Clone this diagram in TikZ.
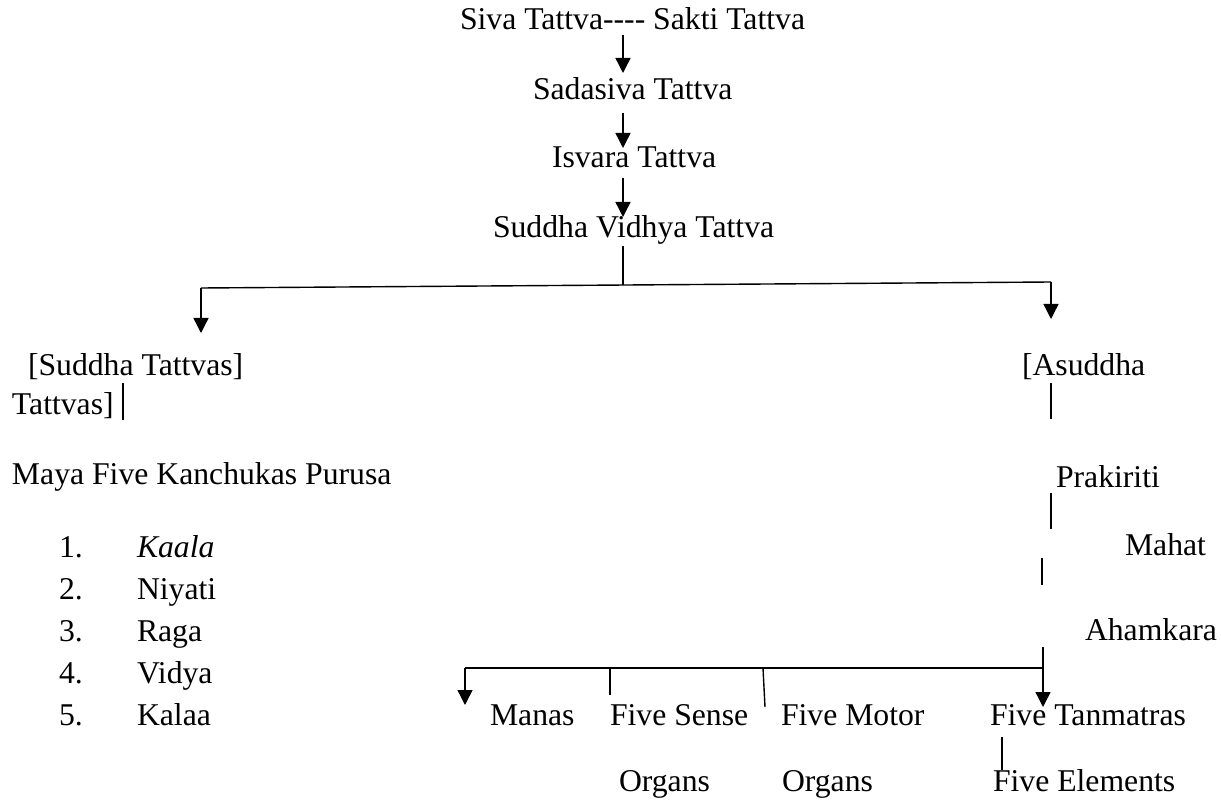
\documentclass[tikz,border=0pt]{standalone}
\usepackage{fontspec}
\setmainfont{Liberation Serif}
\usetikzlibrary{arrows.meta}
\begin{document}
\begin{tikzpicture}[x=1pt,y=-1pt,
  lbl/.style={anchor=base west,inner sep=0pt,outer sep=0pt,font=\fontsize{31.7}{38}\selectfont},
  conn/.style={line width=1.4pt,black},
  arr/.style={conn,-{Triangle[length=15pt,width=15pt]}}]
\useasboundingbox (0,0) rectangle (1221,802);
\fill[white] (0,0) rectangle (1221,802);
% top chain
\node[lbl] (siva) at (460,30) {Siva Tattva-{}-{}-{}- Sakti Tattva};
\node[lbl] (sada) at (533,100) {Sadasiva Tattva};
\node[lbl] (isv) at (552,168) {Isvara Tattva};
\node[lbl] (sv) at (493,238) {Suddha Vidhya Tattva};
% branches
\node[lbl] (sud) at (28,375) {[Suddha Tattvas]};
\node[lbl] (sud2) at (12,414) {Tattvas]};
\node[lbl] (asud) at (1022,375) {[Asuddha};
\node[lbl] (maya) at (12,484) {Maya Five Kanchukas Purusa};
\node[lbl] (prak) at (1056,487) {Prakiriti};
\node[lbl] (mahat) at (1125,555) {Mahat};
\node[lbl] (aham) at (1085,640) {Ahamkara};
% list
\node[lbl] (n1) at (59,557) {1.};
\node[lbl] (i1) at (137,557) {\textit{Kaala}};
\node[lbl] (n2) at (59,599) {2.};
\node[lbl] (i2) at (137,599) {Niyati};
\node[lbl] (n3) at (59,641) {3.};
\node[lbl] (i3) at (137,641) {Raga};
\node[lbl] (n4) at (59,683) {4.};
\node[lbl] (i4) at (137,683) {Vidya};
\node[lbl] (n5) at (59,725) {5.};
\node[lbl] (i5) at (137,725) {Kalaa};
% bottom
\node[lbl] (manas) at (490,725) {Manas};
\node[lbl] (sense) at (610,725) {Five Sense};
\node[lbl] (motor) at (781,725) {Five Motor};
\node[lbl] (tan) at (990,725) {Five Tanmatras};
\node[lbl] (org1) at (619,791) {Organs};
\node[lbl] (org2) at (782,791) {Organs};
\node[lbl] (elem) at (993,791) {Five Elements};
% coordinates
\coordinate (a1s) at (623,35);  \coordinate (a1e) at (623,73);
\coordinate (a2s) at (623,113); \coordinate (a2e) at (623,148);
\coordinate (a3s) at (623,178); \coordinate (a3e) at (623,217);
\coordinate (ls) at (623,246);  \coordinate (lj) at (623,285);
\coordinate (lc) at (201,288);  \coordinate (le) at (201,333);
\coordinate (rc) at (1051,282); \coordinate (re) at (1051,319);
\coordinate (b1s) at (123,383); \coordinate (b1e) at (123,420);
\coordinate (b2s) at (1051,383); \coordinate (b2e) at (1051,419);
\coordinate (b3s) at (1051,493); \coordinate (b3e) at (1051,529);
\coordinate (b4s) at (1042,558); \coordinate (b4e) at (1042,585);
\coordinate (hs) at (1043,647); \coordinate (hj) at (1043,668);
\coordinate (he) at (1043,707);
\coordinate (hl) at (465,668);  \coordinate (hle) at (465,705);
\coordinate (v1) at (610,668);  \coordinate (v1e) at (610,695);
\coordinate (v2) at (763,668);  \coordinate (v2e) at (765,707);
\coordinate (b5s) at (1002,737); \coordinate (b5e) at (1002,770);
% connectors
\draw[arr] (a1s) -- (a1e);
\draw[arr] (a2s) -- (a2e);
\draw[arr] (a3s) -- (a3e);
\draw[conn] (ls) -- (lj);
\draw[conn] (lc) -- (rc);
\draw[arr] (lc) -- (le);
\draw[arr] (rc) -- (re);
\draw[conn] (b1s) -- (b1e);
\draw[conn] (b2s) -- (b2e);
\draw[conn] (b3s) -- (b3e);
\draw[conn] (b4s) -- (b4e);
\draw[arr] (hs) -- (he);
\draw[conn] (hl) -- (hj);
\draw[arr] (hl) -- (hle);
\draw[conn] (v1) -- (v1e);
\draw[conn] (v2) -- (v2e);
\draw[conn] (b5s) -- (b5e);
\end{tikzpicture}
\end{document}
